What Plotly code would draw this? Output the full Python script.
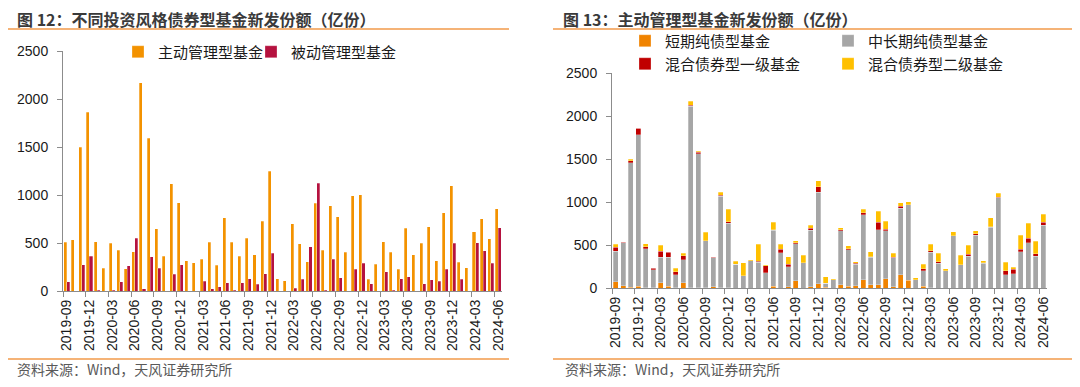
import plotly.graph_objects as go

# ---------------- data ----------------
months = [f"{2019 + (8 + i) // 12}-{(8 + i) % 12 + 1:02d}" for i in range(58)]

active = [508, 535, 1499, 1860, 515, 236, 497, 424, 230, 407,
          2170, 1592, 650, 362, 1116, 918, 313, 296, 330, 508,
          268, 765, 508, 362, 549, 379, 727, 1248, 129, 108,
          699, 494, 306, 914, 424, 890, 775, 403, 991, 1001,
          122, 278, 511, 403, 226, 654, 379, 497, 668, 316,
          817, 1099, 299, 243, 615, 755, 542, 855]
passive = [94, 0, 275, 362, 7, 0, 7, 94, 264, 549,
           21, 355, 236, 0, 174, 275, 0, 0, 101, 21,
           42, 87, 10, 87, 129, 70, 181, 393, 0, 0,
           31, 125, 462, 1120, 7, 330, 136, 0, 226, 289,
           73, 0, 198, 10, 129, 146, 0, 73, 115, 101,
           226, 497, 125, 0, 504, 421, 289, 661]

short_pure = [74, 27, 8, 23, 3, 2, 62, 23, 3, 62,
              2, 2, 3, 12, 3, 3, 0, 0, 0, 0,
              0, 23, 0, 12, 82, 0, 12, 50, 8, 0,
              35, 19, 27, 97, 35, 35, 105, 12, 155, 89,
              0, 23, 3, 0, 0, 0, 0, 0, 0, 0,
              0, 0, 0, 0, 0, 0, 0, 0]
mid_long_pure = [352, 497, 1450, 1757, 456, 208, 293, 334, 150, 264,
                 2114, 1559, 545, 340, 1063, 750, 276, 144, 316, 299,
                 180, 647, 410, 236, 432, 291, 661, 1064, 45, 95,
                 631, 427, 252, 757, 325, 640, 560, 342, 770, 878,
                 97, 179, 414, 285, 198, 606, 270, 372, 614, 288,
                 704, 1052, 157, 166, 420, 524, 370, 730]
mixed_1 = [45, 8, 19, 76, 19, 22, 70, 58, 37, 47,
           7, 19, 3, 5, 15, 19, 0, 0, 3, 11,
           76, 7, 43, 31, 12, 0, 22, 66, 0, 0,
           11, 8, 11, 23, 4, 90, 19, 3, 27, 3,
           0, 23, 16, 23, 4, 3, 0, 23, 16, 3,
           10, 3, 46, 54, 31, 54, 31, 35]
mixed_2 = [37, 3, 22, 4, 37, 4, 72, 9, 40, 34,
           47, 12, 99, 5, 35, 146, 37, 152, 11, 198,
           12, 88, 55, 83, 23, 88, 32, 68, 76, 13,
           22, 40, 16, 37, 60, 125, 91, 46, 39, 31,
           25, 53, 78, 95, 24, 45, 109, 102, 38, 25,
           103, 44, 96, 23, 164, 177, 141, 90]

left_names = ["主动管理型基金", "被动管理型基金"]
right_names = ["短期纯债型基金", "中长期纯债型基金", "混合债券型一级基金", "混合债券型二级基金"]
titles = ["图 12：不同投资风格债券型基金新发份额（亿份）", "图 13：主动管理型基金新发份额（亿份）"]
source = "资料来源：Wind，天风证券研究所"
y_ticks = [0, 500, 1000, 1500, 2000, 2500]

# ---------------- styling ----------------
# The page body has an 8px margin, so the figure is sized to fit the
# 1080x387 window and page coordinates are mapped into it.
PAGE_OFF = 8
W, H = 1080 - 2 * PAGE_OFF, 387 - 2 * PAGE_OFF
FONT = "Liberation Sans, Arial, Noto Sans CJK SC, sans-serif"
CJK = "Noto Sans CJK SC, Microsoft YaHei, sans-serif"
ACCENT = "#F29A4A"
AXIS_C = "#8C8C8C"


def px_x(v):
    return max(0.0, min(1.0, (v - PAGE_OFF) / W))


def px_y(v):
    return max(0.0, min(1.0, 1 - (v - PAGE_OFF) / H))


def leg_x(text_start):
    # plotly places legend text ~42px right of the legend anchor
    return px_x(text_start - 42)


fig = go.Figure()

# left panel: grouped bars
left_colors = ["#F39200", "#B5123F"]
left_legends = ["legend", "legend2"]
for name, vals, col, grp, lg in zip(left_names, [active, passive], left_colors, ["a", "b"], left_legends):
    fig.add_trace(go.Bar(
        x=months, y=vals, name=name, xaxis="x", yaxis="y",
        offsetgroup=grp,
        marker=dict(color=col, line=dict(color="rgba(255,255,255,0.55)", width=0.5)),
        legend=lg,
    ))

# right panel: stacked bars
right_colors = ["#F08300", "#A6A6A6", "#C00000", "#FFC000"]
right_series = [short_pure, mid_long_pure, mixed_1, mixed_2]
right_legends = ["legend3", "legend4", "legend5", "legend6"]
for name, vals, col, lg in zip(right_names, right_series, right_colors, right_legends):
    fig.add_trace(go.Bar(
        x=months, y=vals, name=name, xaxis="x2", yaxis="y2",
        offsetgroup="c", width=0.62,
        marker=dict(color=col, line=dict(color="rgba(255,255,255,0.55)", width=0.5)),
        legend=lg,
    ))

xaxis_common = dict(
    type="category", tickmode="linear", tick0=0, dtick=3, tickson="boundaries",
    ticks="outside", ticklen=5, tickcolor=AXIS_C, tickangle=-90,
    showline=True, linecolor=AXIS_C, linewidth=1, showgrid=False,
    tickfont=dict(family=FONT, size=14, color="#1a1a1a"),
    range=[-0.5, 57.5], ticklabelstandoff=2, automargin=False,
)
yaxis_common = dict(
    range=[0, 2500], tickmode="array", tickvals=y_ticks,
    ticks="outside", ticklen=5, tickcolor=AXIS_C,
    showline=True, linecolor=AXIS_C, linewidth=1, showgrid=False, zeroline=False,
    tickfont=dict(family=FONT, size=14, color="#1a1a1a"), ticklabelstandoff=6,
    automargin=False,
)

legend_common = dict(orientation="h", xanchor="left", yanchor="middle",
                     font=dict(family=CJK, size=15, color="#1a1a1a"),
                     bgcolor="rgba(0,0,0,0)", borderwidth=0, itemwidth=30)

fig.update_layout(
    width=W, height=H,
    margin=dict(l=0, r=0, t=0, b=0, autoexpand=False),
    paper_bgcolor="white", plot_bgcolor="white",
    barmode="stack", bargap=0.2, bargroupgap=0,
    xaxis=dict(domain=[px_x(63), px_x(502)], anchor="y", **xaxis_common),
    yaxis=dict(domain=[px_y(291), px_y(51)], anchor="x", **yaxis_common),
    xaxis2=dict(domain=[px_x(612), px_x(1047)], anchor="y2", **xaxis_common),
    yaxis2=dict(domain=[px_y(288), px_y(73)], anchor="x2", **yaxis_common),
    legend=dict(x=leg_x(160), y=px_y(52), **legend_common),
    legend2=dict(x=leg_x(293), y=px_y(52), **legend_common),
    legend3=dict(x=leg_x(667), y=px_y(41), **legend_common),
    legend4=dict(x=leg_x(870), y=px_y(41), **legend_common),
    legend5=dict(x=leg_x(667), y=px_y(64), **legend_common),
    legend6=dict(x=leg_x(870), y=px_y(64), **legend_common),
    showlegend=True,
)

# titles, separators and source notes
for i, (tx, lx0, lx1, sx) in enumerate([(15, 3, 509, 15), (561, 553, 1077, 563)]):
    fig.add_annotation(x=px_x(tx), y=px_y(19), xref="paper", yref="paper",
                       text=f"<b>{titles[i]}</b>", showarrow=False,
                       xanchor="left", yanchor="middle",
                       font=dict(family=CJK, size=16, color="#3a3a3a"))
    fig.add_annotation(x=px_x(sx), y=px_y(368.5), xref="paper", yref="paper",
                       text=source, showarrow=False, xanchor="left", yanchor="middle",
                       font=dict(family=CJK, size=14, color="#595959"))
    for yy in (29, 359):
        fig.add_shape(type="line", xref="paper", yref="paper",
                      x0=px_x(lx0), x1=px_x(lx1), y0=px_y(yy), y1=px_y(yy),
                      line=dict(color=ACCENT, width=1.5))

fig.write_html("out.html")
